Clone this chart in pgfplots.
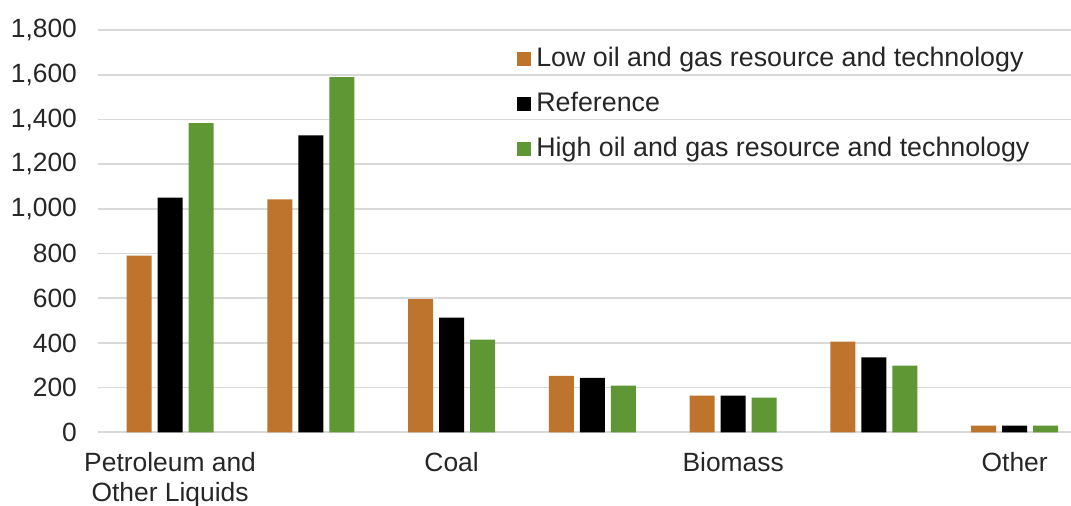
\documentclass[border=0pt]{standalone}
\usepackage{fontspec}
\setmainfont{Liberation Sans}
\usepackage{pgfplots}
\pgfplotsset{compat=1.18}
\definecolor{lowcol}{RGB}{191,116,45}
\definecolor{refcol}{RGB}{0,0,0}
\definecolor{highcol}{RGB}{94,151,51}
\definecolor{gridcol}{RGB}{217,217,217}
\definecolor{txtcol}{RGB}{38,38,38}

\begin{document}
\begin{tikzpicture}
\begin{axis}[
  at={(0,0)}, anchor=south west,
  scale only axis,
  width=486.5pt, height=201pt,
  xmin=-0.512, xmax=6.40,
  ymin=0, ymax=1800,
  ybar=3pt, bar width=12.5pt,
  axis line style={draw=none},
  major tick length=0pt,
  ytick={0,200,...,1800},
  ymajorgrids,
  grid style={gridcol, line width=0.8pt},
  xtick={0,1,2,3,4,5,6},
  xticklabels={{Petroleum and\\Other Liquids},,Coal,,Biomass,,Other},
  xticklabel style={align=center, yshift=-6.5pt, text=txtcol},
  yticklabel style={xshift=-7pt, text=txtcol,
    /pgf/number format/1000 sep={,}, /pgf/number format/assume math mode=true},
  font=\fontsize{13.2}{15}\selectfont,
  legend style={at={(rel axis cs:0.424,0.976)}, anchor=north west, draw=none, fill=none,
    font=\fontsize{13.4}{15}\selectfont, text=txtcol,
    row sep=8.3pt, nodes={inner sep=1.5pt},
    /tikz/every odd column/.append style={column sep=1.2pt}},
  legend cell align=left,
  legend image code/.code={\draw[#1, draw=none] (0pt,-3.5pt) rectangle (7pt,3.5pt);},
]
\addplot[fill=lowcol, draw=none] coordinates {(0,791) (1,1043) (2,596) (3,253) (4,164) (5,406) (6,30)};
\addplot[fill=refcol, draw=none] coordinates {(0,1051) (1,1330) (2,513) (3,244) (4,164) (5,336) (6,30)};
\addplot[fill=highcol, draw=none] coordinates {(0,1384) (1,1590) (2,415) (3,209) (4,155) (5,298) (6,30)};
\legend{Low oil and gas resource and technology, Reference, High oil and gas resource and technology}
\end{axis}
\pgfresetboundingbox
\path[use as bounding box] (-49pt,-36.85pt) rectangle (486.5pt,216.15pt);
\end{tikzpicture}
\end{document}
